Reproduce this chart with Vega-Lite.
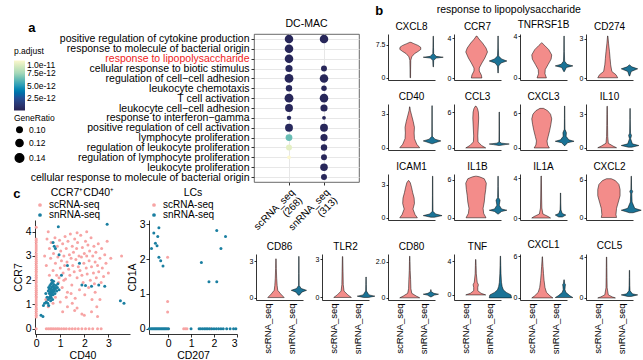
{
"$schema":"https://vega.github.io/schema/vega-lite/v6.json",
"padding":{"left":13,"top":4,"right":0,"bottom":0},
"columns":2,"bounds":"flush","spacing":{"column":218,"row":185},
"resolve":{"scale":{"color":"independent","size":"independent"}},
"config":{"font":"Liberation Sans","view":{"stroke":null},
"axis":{"domainColor":"#000","tickColor":"#000","labelColor":"#000","titleColor":"#000","grid":false,"titleFontWeight":"normal","domainWidth":0.8,"tickWidth":0.8,"labelFont":"Liberation Sans","titleFont":"Liberation Sans"},
"legend":{"labelFont":"Liberation Sans","titleFont":"Liberation Sans","titleFontWeight":"normal","labelColor":"#000","titleColor":"#000"},
"title":{"font":"Liberation Sans","fontWeight":"normal","color":"#000"}},
"datasets":{
"go":[
{"t":"positive regulation of cytokine production","m":"scRNA_seq|(268)","r":0.14,"p":3e-13},
{"t":"response to molecule of bacterial origin","m":"scRNA_seq|(268)","r":0.14,"p":3e-13},
{"t":"response to lipopolysaccharide","m":"scRNA_seq|(268)","r":0.14,"p":3e-13},
{"t":"cellular response to biotic stimulus","m":"scRNA_seq|(268)","r":0.12,"p":4e-13},
{"t":"regulation of cell−cell adhesion","m":"scRNA_seq|(268)","r":0.145,"p":3e-13},
{"t":"leukocyte chemotaxis","m":"scRNA_seq|(268)","r":0.11,"p":4e-13},
{"t":"T cell activation","m":"scRNA_seq|(268)","r":0.145,"p":3e-13},
{"t":"leukocyte cell−cell adhesion","m":"scRNA_seq|(268)","r":0.13,"p":3e-13},
{"t":"response to interferon−gamma","m":"scRNA_seq|(268)","r":0.09,"p":5e-13},
{"t":"positive regulation of cell activation","m":"scRNA_seq|(268)","r":0.13,"p":4e-13},
{"t":"lymphocyte proliferation","m":"scRNA_seq|(268)","r":0.115,"p":6.3e-12},
{"t":"regulation of leukocyte proliferation","m":"scRNA_seq|(268)","r":0.105,"p":9.3e-12},
{"t":"regulation of lymphocyte proliferation","m":"scRNA_seq|(268)","r":0.085,"p":1e-11},
{"t":"positive regulation of cytokine production","m":"snRNA_seq|(313)","r":0.14,"p":3e-13},
{"t":"cellular response to biotic stimulus","m":"snRNA_seq|(313)","r":0.105,"p":3e-13},
{"t":"regulation of cell−cell adhesion","m":"snRNA_seq|(313)","r":0.14,"p":3e-13},
{"t":"leukocyte chemotaxis","m":"snRNA_seq|(313)","r":0.1,"p":3e-13},
{"t":"T cell activation","m":"snRNA_seq|(313)","r":0.14,"p":3e-13},
{"t":"leukocyte cell−cell adhesion","m":"snRNA_seq|(313)","r":0.12,"p":3e-13},
{"t":"response to interferon−gamma","m":"snRNA_seq|(313)","r":0.085,"p":3e-13},
{"t":"positive regulation of cell activation","m":"snRNA_seq|(313)","r":0.13,"p":3e-13},
{"t":"lymphocyte proliferation","m":"snRNA_seq|(313)","r":0.12,"p":3e-13},
{"t":"regulation of leukocyte proliferation","m":"snRNA_seq|(313)","r":0.11,"p":3e-13},
{"t":"regulation of lymphocyte proliferation","m":"snRNA_seq|(313)","r":0.105,"p":3e-13},
{"t":"leukocyte proliferation","m":"snRNA_seq|(313)","r":0.125,"p":3e-13},
{"t":"cellular response to molecule of bacterial origin","m":"snRNA_seq|(313)","r":0.105,"p":3e-13}
],
"vio":[
{"g":"CXCL8","m":"sc","v":0,"w":0.04},{"g":"CXCL8","m":"sc","v":2,"w":0.05},{"g":"CXCL8","m":"sc","v":4,"w":0.08},{"g":"CXCL8","m":"sc","v":4.8,"w":0.25},{"g":"CXCL8","m":"sc","v":5.5,"w":0.7},{"g":"CXCL8","m":"sc","v":6,"w":1.3},{"g":"CXCL8","m":"sc","v":6.5,"w":1.8},{"g":"CXCL8","m":"sc","v":7,"w":1.75},{"g":"CXCL8","m":"sc","v":7.4,"w":1.3},{"g":"CXCL8","m":"sc","v":7.8,"w":0.6},{"g":"CXCL8","m":"sc","v":8.1,"w":0.1},
{"g":"CXCL8","m":"sn","v":2.5,"w":0.04},{"g":"CXCL8","m":"sn","v":4,"w":0.08},{"g":"CXCL8","m":"sn","v":4.5,"w":0.5},{"g":"CXCL8","m":"sn","v":4.7,"w":1.7},{"g":"CXCL8","m":"sn","v":4.9,"w":0.5},{"g":"CXCL8","m":"sn","v":5.5,"w":0.08},{"g":"CXCL8","m":"sn","v":7,"w":0.05},{"g":"CXCL8","m":"sn","v":9.5,"w":0.03},
{"g":"CCR7","m":"sc","v":0,"w":0.9},{"g":"CCR7","m":"sc","v":0.3,"w":0.8},{"g":"CCR7","m":"sc","v":0.7,"w":0.45},{"g":"CCR7","m":"sc","v":1,"w":0.45},{"g":"CCR7","m":"sc","v":1.5,"w":0.9},{"g":"CCR7","m":"sc","v":2,"w":1.4},{"g":"CCR7","m":"sc","v":2.6,"w":1.85},{"g":"CCR7","m":"sc","v":3,"w":1.6},{"g":"CCR7","m":"sc","v":3.5,"w":1},{"g":"CCR7","m":"sc","v":3.9,"w":0.4},{"g":"CCR7","m":"sc","v":4.2,"w":0.05},
{"g":"CCR7","m":"sn","v":0.5,"w":0.03},{"g":"CCR7","m":"sn","v":1.2,"w":0.1},{"g":"CCR7","m":"sn","v":1.5,"w":0.5},{"g":"CCR7","m":"sn","v":1.7,"w":1.5},{"g":"CCR7","m":"sn","v":1.9,"w":0.6},{"g":"CCR7","m":"sn","v":2.2,"w":0.1},{"g":"CCR7","m":"sn","v":3,"w":0.05},{"g":"CCR7","m":"sn","v":4.2,"w":0.03},
{"g":"TNFRSF1B","m":"sc","v":0,"w":0.8},{"g":"TNFRSF1B","m":"sc","v":0.4,"w":0.55},{"g":"TNFRSF1B","m":"sc","v":0.8,"w":0.6},{"g":"TNFRSF1B","m":"sc","v":1.3,"w":1.1},{"g":"TNFRSF1B","m":"sc","v":1.8,"w":1.6},{"g":"TNFRSF1B","m":"sc","v":2.2,"w":1.7},{"g":"TNFRSF1B","m":"sc","v":2.7,"w":1.2},{"g":"TNFRSF1B","m":"sc","v":3.1,"w":0.5},{"g":"TNFRSF1B","m":"sc","v":3.35,"w":0.05},
{"g":"TNFRSF1B","m":"sn","v":0.6,"w":0.04},{"g":"TNFRSF1B","m":"sn","v":1,"w":0.4},{"g":"TNFRSF1B","m":"sn","v":1.15,"w":1.5},{"g":"TNFRSF1B","m":"sn","v":1.3,"w":0.5},{"g":"TNFRSF1B","m":"sn","v":1.6,"w":0.1},{"g":"TNFRSF1B","m":"sn","v":2.5,"w":0.05},{"g":"TNFRSF1B","m":"sn","v":4,"w":0.03},
{"g":"CD274","m":"sc","v":0.02,"w":1.7},{"g":"CD274","m":"sc","v":0.25,"w":1.4},{"g":"CD274","m":"sc","v":0.5,"w":0.7},{"g":"CD274","m":"sc","v":1,"w":0.5},{"g":"CD274","m":"sc","v":1.5,"w":0.4},{"g":"CD274","m":"sc","v":2,"w":0.3},{"g":"CD274","m":"sc","v":2.6,"w":0.15},{"g":"CD274","m":"sc","v":3.2,"w":0.03},
{"g":"CD274","m":"sn","v":0.15,"w":0.04},{"g":"CD274","m":"sn","v":0.5,"w":0.3},{"g":"CD274","m":"sn","v":0.7,"w":1.4},{"g":"CD274","m":"sn","v":0.85,"w":0.4},{"g":"CD274","m":"sn","v":1,"w":0.04},
{"g":"CD40","m":"sc","v":0,"w":1.7},{"g":"CD40","m":"sc","v":0.3,"w":1.2},{"g":"CD40","m":"sc","v":0.8,"w":0.8},{"g":"CD40","m":"sc","v":1.3,"w":0.75},{"g":"CD40","m":"sc","v":1.8,"w":0.8},{"g":"CD40","m":"sc","v":2.3,"w":0.6},{"g":"CD40","m":"sc","v":2.8,"w":0.35},{"g":"CD40","m":"sc","v":3.3,"w":0.1},{"g":"CD40","m":"sc","v":3.6,"w":0.03},
{"g":"CD40","m":"sn","v":0.35,"w":0.04},{"g":"CD40","m":"sn","v":0.5,"w":0.9},{"g":"CD40","m":"sn","v":0.6,"w":1.5},{"g":"CD40","m":"sn","v":0.75,"w":0.5},{"g":"CD40","m":"sn","v":1,"w":0.05},{"g":"CD40","m":"sn","v":2,"w":0.04},{"g":"CD40","m":"sn","v":3.7,"w":0.03},
{"g":"CCL3","m":"sc","v":0,"w":1.7},{"g":"CCL3","m":"sc","v":0.4,"w":1},{"g":"CCL3","m":"sc","v":1,"w":0.4},{"g":"CCL3","m":"sc","v":2,"w":0.35},{"g":"CCL3","m":"sc","v":3,"w":0.4},{"g":"CCL3","m":"sc","v":4,"w":0.45},{"g":"CCL3","m":"sc","v":5,"w":0.5},{"g":"CCL3","m":"sc","v":6,"w":0.45},{"g":"CCL3","m":"sc","v":6.6,"w":0.3},{"g":"CCL3","m":"sc","v":7,"w":0.05},
{"g":"CCL3","m":"sn","v":0.4,"w":0.04},{"g":"CCL3","m":"sn","v":0.55,"w":1},{"g":"CCL3","m":"sn","v":0.65,"w":1.7},{"g":"CCL3","m":"sn","v":0.8,"w":0.4},{"g":"CCL3","m":"sn","v":1,"w":0.05},{"g":"CCL3","m":"sn","v":3,"w":0.04},{"g":"CCL3","m":"sn","v":6,"w":0.03},
{"g":"CXCL3","m":"sc","v":0,"w":1.3},{"g":"CXCL3","m":"sc","v":0.5,"w":1},{"g":"CXCL3","m":"sc","v":1.2,"w":0.9},{"g":"CXCL3","m":"sc","v":2,"w":1.1},{"g":"CXCL3","m":"sc","v":3,"w":1.35},{"g":"CXCL3","m":"sc","v":4,"w":1.55},{"g":"CXCL3","m":"sc","v":5,"w":1.7},{"g":"CXCL3","m":"sc","v":5.8,"w":1.5},{"g":"CXCL3","m":"sc","v":6.4,"w":1},{"g":"CXCL3","m":"sc","v":6.8,"w":0.3},
{"g":"CXCL3","m":"sn","v":0.4,"w":0.05},{"g":"CXCL3","m":"sn","v":0.9,"w":0.5},{"g":"CXCL3","m":"sn","v":1.15,"w":1.6},{"g":"CXCL3","m":"sn","v":1.4,"w":0.7},{"g":"CXCL3","m":"sn","v":2,"w":0.25},{"g":"CXCL3","m":"sn","v":2.6,"w":0.3},{"g":"CXCL3","m":"sn","v":3.2,"w":0.06},{"g":"CXCL3","m":"sn","v":5,"w":0.04},{"g":"CXCL3","m":"sn","v":7.2,"w":0.03},
{"g":"IL10","m":"sc","v":0,"w":1.6},{"g":"IL10","m":"sc","v":0.15,"w":1},{"g":"IL10","m":"sc","v":0.4,"w":0.2},{"g":"IL10","m":"sc","v":1,"w":0.1},{"g":"IL10","m":"sc","v":2,"w":0.07},{"g":"IL10","m":"sc","v":3,"w":0.05},{"g":"IL10","m":"sc","v":3.7,"w":0.03},
{"g":"IL10","m":"sn","v":0.05,"w":0.3},{"g":"IL10","m":"sn","v":0.2,"w":1.5},{"g":"IL10","m":"sn","v":0.35,"w":0.4},{"g":"IL10","m":"sn","v":0.8,"w":0.1},{"g":"IL10","m":"sn","v":1.1,"w":0.25},{"g":"IL10","m":"sn","v":1.3,"w":0.08},{"g":"IL10","m":"sn","v":2.5,"w":0.04},{"g":"IL10","m":"sn","v":3.5,"w":0.03},
{"g":"ICAM1","m":"sc","v":0,"w":1.5},{"g":"ICAM1","m":"sc","v":0.3,"w":1.1},{"g":"ICAM1","m":"sc","v":0.8,"w":0.75},{"g":"ICAM1","m":"sc","v":1.3,"w":1},{"g":"ICAM1","m":"sc","v":1.8,"w":0.95},{"g":"ICAM1","m":"sc","v":2.3,"w":0.7},{"g":"ICAM1","m":"sc","v":2.8,"w":0.5},{"g":"ICAM1","m":"sc","v":3.2,"w":0.3},{"g":"ICAM1","m":"sc","v":3.4,"w":0.04},
{"g":"ICAM1","m":"sn","v":0.05,"w":0.3},{"g":"ICAM1","m":"sn","v":0.2,"w":1.6},{"g":"ICAM1","m":"sn","v":0.35,"w":0.5},{"g":"ICAM1","m":"sn","v":0.6,"w":0.06},{"g":"ICAM1","m":"sn","v":2,"w":0.04},{"g":"ICAM1","m":"sn","v":3.8,"w":0.03},
{"g":"IL1B","m":"sc","v":0,"w":1.7},{"g":"IL1B","m":"sc","v":0.7,"w":1.3},{"g":"IL1B","m":"sc","v":1.5,"w":1.2},{"g":"IL1B","m":"sc","v":2.5,"w":1.4},{"g":"IL1B","m":"sc","v":3.5,"w":1.5},{"g":"IL1B","m":"sc","v":4.5,"w":1.65},{"g":"IL1B","m":"sc","v":5.5,"w":1.75},{"g":"IL1B","m":"sc","v":6.2,"w":1.4},{"g":"IL1B","m":"sc","v":6.5,"w":0.6},{"g":"IL1B","m":"sc","v":6.6,"w":0.1},
{"g":"IL1B","m":"sn","v":0.6,"w":0.05},{"g":"IL1B","m":"sn","v":1,"w":0.6},{"g":"IL1B","m":"sn","v":1.2,"w":1.5},{"g":"IL1B","m":"sn","v":1.4,"w":0.6},{"g":"IL1B","m":"sn","v":2,"w":0.2},{"g":"IL1B","m":"sn","v":2.8,"w":0.35},{"g":"IL1B","m":"sn","v":3.2,"w":0.08},{"g":"IL1B","m":"sn","v":5,"w":0.04},{"g":"IL1B","m":"sn","v":6.6,"w":0.03},
{"g":"IL1A","m":"sc","v":0,"w":1.6},{"g":"IL1A","m":"sc","v":0.15,"w":1.2},{"g":"IL1A","m":"sc","v":0.4,"w":0.3},{"g":"IL1A","m":"sc","v":1,"w":0.12},{"g":"IL1A","m":"sc","v":2,"w":0.08},{"g":"IL1A","m":"sc","v":3,"w":0.06},{"g":"IL1A","m":"sc","v":4.2,"w":0.03},
{"g":"IL1A","m":"sn","v":0.1,"w":0.3},{"g":"IL1A","m":"sn","v":0.3,"w":0.9},{"g":"IL1A","m":"sn","v":0.45,"w":0.3},{"g":"IL1A","m":"sn","v":0.8,"w":0.08},{"g":"IL1A","m":"sn","v":1.5,"w":0.04},{"g":"IL1A","m":"sn","v":2.5,"w":0.03},
{"g":"CXCL2","m":"sc","v":0.05,"w":1.3},{"g":"CXCL2","m":"sc","v":0.5,"w":1.2},{"g":"CXCL2","m":"sc","v":1.5,"w":1.3},{"g":"CXCL2","m":"sc","v":2.5,"w":1.6},{"g":"CXCL2","m":"sc","v":3.5,"w":1.9},{"g":"CXCL2","m":"sc","v":4.5,"w":1.9},{"g":"CXCL2","m":"sc","v":5.3,"w":1.7},{"g":"CXCL2","m":"sc","v":5.9,"w":1.1},{"g":"CXCL2","m":"sc","v":6.2,"w":0.4},
{"g":"CXCL2","m":"sn","v":0.8,"w":0.3},{"g":"CXCL2","m":"sn","v":1,"w":1},{"g":"CXCL2","m":"sn","v":1.2,"w":1.7},{"g":"CXCL2","m":"sn","v":1.5,"w":0.6},{"g":"CXCL2","m":"sn","v":2.5,"w":0.15},{"g":"CXCL2","m":"sn","v":3.8,"w":0.1},{"g":"CXCL2","m":"sn","v":4.2,"w":0.25},{"g":"CXCL2","m":"sn","v":4.5,"w":0.06},{"g":"CXCL2","m":"sn","v":6.6,"w":0.03},
{"g":"CD86","m":"sc","v":0,"w":1.4},{"g":"CD86","m":"sc","v":0.3,"w":0.8},{"g":"CD86","m":"sc","v":0.6,"w":0.3},{"g":"CD86","m":"sc","v":1,"w":0.2},{"g":"CD86","m":"sc","v":1.6,"w":0.12},{"g":"CD86","m":"sc","v":2.4,"w":0.06},{"g":"CD86","m":"sc","v":3.2,"w":0.03},
{"g":"CD86","m":"sn","v":0.2,"w":0.1},{"g":"CD86","m":"sn","v":0.45,"w":0.5},{"g":"CD86","m":"sn","v":0.6,"w":1.3},{"g":"CD86","m":"sn","v":0.75,"w":0.4},{"g":"CD86","m":"sn","v":1,"w":0.05},{"g":"CD86","m":"sn","v":2,"w":0.04},{"g":"CD86","m":"sn","v":3.4,"w":0.03},
{"g":"TLR2","m":"sc","v":0,"w":1.5},{"g":"TLR2","m":"sc","v":0.2,"w":0.9},{"g":"TLR2","m":"sc","v":0.5,"w":0.25},{"g":"TLR2","m":"sc","v":1,"w":0.12},{"g":"TLR2","m":"sc","v":2,"w":0.08},{"g":"TLR2","m":"sc","v":3.2,"w":0.03},
{"g":"TLR2","m":"sn","v":0,"w":0.4},{"g":"TLR2","m":"sn","v":0.1,"w":1.5},{"g":"TLR2","m":"sn","v":0.2,"w":0.5},{"g":"TLR2","m":"sn","v":0.5,"w":0.07},{"g":"TLR2","m":"sn","v":1,"w":0.05},{"g":"TLR2","m":"sn","v":1.6,"w":0.03},
{"g":"CD80","m":"sc","v":0,"w":1.7},{"g":"CD80","m":"sc","v":0.1,"w":1.1},{"g":"CD80","m":"sc","v":0.25,"w":0.35},{"g":"CD80","m":"sc","v":0.5,"w":0.2},{"g":"CD80","m":"sc","v":1,"w":0.15},{"g":"CD80","m":"sc","v":1.5,"w":0.08},{"g":"CD80","m":"sc","v":2,"w":0.05},{"g":"CD80","m":"sc","v":2.3,"w":0.02},
{"g":"CD80","m":"sn","v":0.05,"w":0.04},{"g":"CD80","m":"sn","v":0.15,"w":0.6},{"g":"CD80","m":"sn","v":0.2,"w":1.3},{"g":"CD80","m":"sn","v":0.25,"w":0.5},{"g":"CD80","m":"sn","v":0.35,"w":0.04},{"g":"CD80","m":"sn","v":0.45,"w":0.03},
{"g":"TNF","m":"sc","v":0,"w":1.7},{"g":"TNF","m":"sc","v":0.2,"w":0.9},{"g":"TNF","m":"sc","v":0.5,"w":0.35},{"g":"TNF","m":"sc","v":0.9,"w":0.35},{"g":"TNF","m":"sc","v":1.2,"w":0.45},{"g":"TNF","m":"sc","v":1.5,"w":0.25},{"g":"TNF","m":"sc","v":2.5,"w":0.1},{"g":"TNF","m":"sc","v":3.5,"w":0.06},{"g":"TNF","m":"sc","v":4.2,"w":0.03},
{"g":"TNF","m":"sn","v":-0.35,"w":1.9},{"g":"TNF","m":"sn","v":0,"w":1.8},{"g":"TNF","m":"sn","v":0.3,"w":1},{"g":"TNF","m":"sn","v":0.6,"w":0.5},{"g":"TNF","m":"sn","v":1,"w":0.3},{"g":"TNF","m":"sn","v":1.5,"w":0.18},{"g":"TNF","m":"sn","v":2.5,"w":0.1},{"g":"TNF","m":"sn","v":3.5,"w":0.06},{"g":"TNF","m":"sn","v":4.6,"w":0.03},
{"g":"CXCL1","m":"sc","v":0,"w":1.8},{"g":"CXCL1","m":"sc","v":0.3,"w":1.3},{"g":"CXCL1","m":"sc","v":0.8,"w":0.7},{"g":"CXCL1","m":"sc","v":1.5,"w":0.45},{"g":"CXCL1","m":"sc","v":2.5,"w":0.3},{"g":"CXCL1","m":"sc","v":3.5,"w":0.2},{"g":"CXCL1","m":"sc","v":4.5,"w":0.12},{"g":"CXCL1","m":"sc","v":5.3,"w":0.06},{"g":"CXCL1","m":"sc","v":5.9,"w":0.03},
{"g":"CXCL1","m":"sn","v":0.05,"w":1.5},{"g":"CXCL1","m":"sn","v":0.3,"w":1},{"g":"CXCL1","m":"sn","v":0.8,"w":0.3},{"g":"CXCL1","m":"sn","v":1.2,"w":0.15},{"g":"CXCL1","m":"sn","v":1.7,"w":0.2},{"g":"CXCL1","m":"sn","v":1.9,"w":0.25},{"g":"CXCL1","m":"sn","v":2.1,"w":0.1},{"g":"CXCL1","m":"sn","v":2.6,"w":0.03},
{"g":"CCL5","m":"sc","v":0,"w":1.5},{"g":"CCL5","m":"sc","v":0.1,"w":1},{"g":"CCL5","m":"sc","v":0.3,"w":0.3},{"g":"CCL5","m":"sc","v":1,"w":0.1},{"g":"CCL5","m":"sc","v":2,"w":0.07},{"g":"CCL5","m":"sc","v":3,"w":0.05},{"g":"CCL5","m":"sc","v":4,"w":0.03},
{"g":"CCL5","m":"sn","v":0.15,"w":0.3},{"g":"CCL5","m":"sn","v":0.3,"w":1.4},{"g":"CCL5","m":"sn","v":0.4,"w":0.5},{"g":"CCL5","m":"sn","v":0.7,"w":0.1},{"g":"CCL5","m":"sn","v":1.2,"w":0.06},{"g":"CCL5","m":"sn","v":2,"w":0.04},{"g":"CCL5","m":"sn","v":2.7,"w":0.03}
],
"c1":[
{"x":0,"y":0.48,"m":"sc"},{"x":0,"y":0.55,"m":"sc"},{"x":0,"y":0.63,"m":"sc"},{"x":0,"y":0.72,"m":"sc"},{"x":0,"y":0.8,"m":"sc"},{"x":0,"y":0.86,"m":"sc"},{"x":0,"y":0.95,"m":"sc"},{"x":0,"y":1.02,"m":"sc"},{"x":0,"y":1.1,"m":"sc"},{"x":0,"y":1.18,"m":"sc"},{"x":0,"y":1.27,"m":"sc"},{"x":0,"y":1.33,"m":"sc"},{"x":0,"y":1.42,"m":"sc"},{"x":0,"y":1.5,"m":"sc"},{"x":0,"y":1.58,"m":"sc"},{"x":0,"y":1.66,"m":"sc"},{"x":0,"y":1.74,"m":"sc"},{"x":0,"y":1.8,"m":"sc"},{"x":0,"y":1.9,"m":"sc"},{"x":0,"y":1.97,"m":"sc"},{"x":0,"y":2.05,"m":"sc"},{"x":0,"y":2.12,"m":"sc"},{"x":0,"y":2.2,"m":"sc"},{"x":0,"y":2.3,"m":"sc"},{"x":0,"y":2.37,"m":"sc"},{"x":0,"y":2.45,"m":"sc"},{"x":0,"y":2.53,"m":"sc"},{"x":0,"y":2.6,"m":"sc"},{"x":0,"y":2.7,"m":"sc"},{"x":0,"y":2.78,"m":"sc"},{"x":0,"y":2.85,"m":"sc"},{"x":0,"y":2.93,"m":"sc"},{"x":0,"y":3.02,"m":"sc"},{"x":0,"y":3.1,"m":"sc"},{"x":0,"y":3.2,"m":"sc"},{"x":0,"y":3.28,"m":"sc"},{"x":0,"y":3.37,"m":"sc"},{"x":0,"y":3.45,"m":"sc"},{"x":0,"y":3.55,"m":"sc"},{"x":0,"y":3.63,"m":"sc"},{"x":0,"y":3.7,"m":"sc"},{"x":0,"y":4.18,"m":"sc"},{"x":0,"y":0,"m":"sc"},
{"x":0.42,"y":0,"m":"sc"},{"x":0.5,"y":0,"m":"sc"},{"x":0.58,"y":0,"m":"sc"},{"x":0.65,"y":0,"m":"sc"},{"x":0.72,"y":0,"m":"sc"},{"x":0.8,"y":0,"m":"sc"},{"x":0.88,"y":0,"m":"sc"},{"x":0.95,"y":0,"m":"sc"},{"x":1.05,"y":0,"m":"sc"},{"x":1.15,"y":0,"m":"sc"},{"x":1.25,"y":0,"m":"sc"},{"x":1.38,"y":0,"m":"sc"},{"x":1.5,"y":0,"m":"sc"},{"x":1.62,"y":0,"m":"sc"},{"x":1.75,"y":0,"m":"sc"},{"x":1.9,"y":0,"m":"sc"},{"x":2.05,"y":0,"m":"sc"},{"x":2.2,"y":0,"m":"sc"},{"x":2.35,"y":0,"m":"sc"},{"x":2.55,"y":0,"m":"sc"},{"x":2.7,"y":0,"m":"sc"},
{"x":0.45,"y":3.7,"m":"sc"},{"x":0.55,"y":3.3,"m":"sc"},{"x":0.6,"y":2.9,"m":"sc"},{"x":0.62,"y":3.55,"m":"sc"},{"x":0.7,"y":2.4,"m":"sc"},{"x":0.72,"y":3.1,"m":"sc"},{"x":0.78,"y":3.75,"m":"sc"},{"x":0.8,"y":2.7,"m":"sc"},{"x":0.85,"y":2.2,"m":"sc"},{"x":0.88,"y":3.4,"m":"sc"},{"x":0.9,"y":2.95,"m":"sc"},{"x":0.93,"y":1.9,"m":"sc"},{"x":0.97,"y":3.65,"m":"sc"},{"x":1,"y":2.5,"m":"sc"},{"x":1.02,"y":3.2,"m":"sc"},{"x":1.05,"y":2.8,"m":"sc"},{"x":1.08,"y":1.7,"m":"sc"},{"x":1.1,"y":3.5,"m":"sc"},{"x":1.12,"y":2.3,"m":"sc"},{"x":1.15,"y":3,"m":"sc"},{"x":1.18,"y":2.6,"m":"sc"},{"x":1.2,"y":3.8,"m":"sc"},{"x":1.22,"y":2.05,"m":"sc"},{"x":1.25,"y":3.3,"m":"sc"},{"x":1.28,"y":2.75,"m":"sc"},{"x":1.3,"y":1.5,"m":"sc"},{"x":1.32,"y":3.6,"m":"sc"},{"x":1.35,"y":2.45,"m":"sc"},{"x":1.38,"y":3.05,"m":"sc"},{"x":1.4,"y":2.2,"m":"sc"},{"x":1.42,"y":3.9,"m":"sc"},{"x":1.45,"y":2.9,"m":"sc"},{"x":1.48,"y":1.8,"m":"sc"},{"x":1.5,"y":3.4,"m":"sc"},{"x":1.52,"y":2.6,"m":"sc"},{"x":1.55,"y":3.15,"m":"sc"},{"x":1.58,"y":2.35,"m":"sc"},{"x":1.6,"y":3.7,"m":"sc"},{"x":1.62,"y":1.25,"m":"sc"},{"x":1.65,"y":2.85,"m":"sc"},{"x":1.68,"y":3.3,"m":"sc"},{"x":1.7,"y":2.1,"m":"sc"},{"x":1.72,"y":3.55,"m":"sc"},{"x":1.75,"y":2.55,"m":"sc"},{"x":1.78,"y":3,"m":"sc"},{"x":1.8,"y":1.6,"m":"sc"},{"x":1.82,"y":2.4,"m":"sc"},{"x":1.85,"y":3.85,"m":"sc"},{"x":1.88,"y":2.95,"m":"sc"},{"x":1.9,"y":2.2,"m":"sc"},{"x":1.92,"y":3.35,"m":"sc"},{"x":1.95,"y":1.9,"m":"sc"},{"x":1.98,"y":2.7,"m":"sc"},{"x":2,"y":3.1,"m":"sc"},{"x":2.02,"y":1.4,"m":"sc"},{"x":2.05,"y":3.6,"m":"sc"},{"x":2.08,"y":2.5,"m":"sc"},{"x":2.1,"y":3,"m":"sc"},{"x":2.12,"y":2.25,"m":"sc"},{"x":2.15,"y":3.45,"m":"sc"},{"x":2.18,"y":1.7,"m":"sc"},{"x":2.2,"y":2.8,"m":"sc"},{"x":2.22,"y":3.2,"m":"sc"},{"x":2.25,"y":2,"m":"sc"},{"x":2.28,"y":3.75,"m":"sc"},{"x":2.3,"y":2.55,"m":"sc"},{"x":2.32,"y":1.2,"m":"sc"},{"x":2.35,"y":3,"m":"sc"},{"x":2.38,"y":2.3,"m":"sc"},{"x":2.4,"y":3.4,"m":"sc"},{"x":2.42,"y":1.85,"m":"sc"},{"x":2.45,"y":2.75,"m":"sc"},{"x":2.48,"y":3.15,"m":"sc"},{"x":2.5,"y":2.1,"m":"sc"},{"x":2.52,"y":0.9,"m":"sc"},{"x":2.55,"y":2.6,"m":"sc"},{"x":2.58,"y":3.5,"m":"sc"},{"x":2.6,"y":2.35,"m":"sc"},{"x":2.65,"y":2.9,"m":"sc"},{"x":2.7,"y":1.9,"m":"sc"},{"x":2.72,"y":3.3,"m":"sc"},{"x":2.75,"y":2.5,"m":"sc"},{"x":2.8,"y":2.15,"m":"sc"},{"x":2.85,"y":3.05,"m":"sc"},{"x":2.9,"y":2.7,"m":"sc"},{"x":2.95,"y":3.6,"m":"sc"},{"x":3,"y":2.3,"m":"sc"},{"x":3.1,"y":2.9,"m":"sc"},{"x":3.55,"y":3,"m":"sc"},{"x":0.4,"y":1.2,"m":"sc"},{"x":0.5,"y":0.9,"m":"sc"},{"x":0.35,"y":3,"m":"sc"},{"x":0.42,"y":2.6,"m":"sc"},{"x":1,"y":1.1,"m":"sc"},{"x":1.1,"y":0.7,"m":"sc"},{"x":1.3,"y":0.9,"m":"sc"},{"x":1.5,"y":1.05,"m":"sc"},{"x":1.7,"y":0.85,"m":"sc"},{"x":1.9,"y":0.6,"m":"sc"},{"x":2,"y":0.55,"m":"sc"},{"x":2.3,"y":0.7,"m":"sc"},{"x":2.55,"y":0.5,"m":"sc"},{"x":1.6,"y":0.75,"m":"sc"},{"x":1.25,"y":1.3,"m":"sc"},{"x":1.45,"y":1.45,"m":"sc"},{"x":0.8,"y":1.3,"m":"sc"},{"x":0.7,"y":1.05,"m":"sc"},{"x":0.65,"y":2,"m":"sc"},{"x":0.55,"y":2.2,"m":"sc"},{"x":2.45,"y":1.5,"m":"sc"},{"x":2.65,"y":1.2,"m":"sc"},{"x":1.15,"y":2,"m":"sc"},{"x":0.95,"y":2.1,"m":"sc"},{"x":1.7,"y":3.95,"m":"sc"},{"x":2.1,"y":4,"m":"sc"},{"x":0.5,"y":4,"m":"sc"},
{"x":0.5,"y":1.55,"m":"sn"},{"x":0.52,"y":1.7,"m":"sn"},{"x":0.55,"y":1.45,"m":"sn"},{"x":0.55,"y":1.62,"m":"sn"},{"x":0.57,"y":1.78,"m":"sn"},{"x":0.58,"y":1.5,"m":"sn"},{"x":0.6,"y":1.65,"m":"sn"},{"x":0.6,"y":1.38,"m":"sn"},{"x":0.62,"y":1.85,"m":"sn"},{"x":0.62,"y":1.55,"m":"sn"},{"x":0.64,"y":1.72,"m":"sn"},{"x":0.65,"y":1.45,"m":"sn"},{"x":0.66,"y":1.6,"m":"sn"},{"x":0.67,"y":1.9,"m":"sn"},{"x":0.68,"y":1.5,"m":"sn"},{"x":0.7,"y":1.75,"m":"sn"},{"x":0.7,"y":1.4,"m":"sn"},{"x":0.72,"y":1.62,"m":"sn"},{"x":0.73,"y":1.82,"m":"sn"},{"x":0.75,"y":1.55,"m":"sn"},{"x":0.76,"y":1.7,"m":"sn"},{"x":0.78,"y":1.45,"m":"sn"},{"x":0.8,"y":1.65,"m":"sn"},{"x":0.82,"y":1.78,"m":"sn"},{"x":0.85,"y":1.55,"m":"sn"},{"x":0.88,"y":1.7,"m":"sn"},{"x":0.58,"y":1.25,"m":"sn"},{"x":0.6,"y":1.15,"m":"sn"},{"x":0.55,"y":1.3,"m":"sn"},{"x":0.5,"y":1.2,"m":"sn"},{"x":0.48,"y":1.05,"m":"sn"},{"x":0.45,"y":1.3,"m":"sn"},{"x":0.42,"y":1.1,"m":"sn"},{"x":0.52,"y":0.95,"m":"sn"},{"x":0.4,"y":1.45,"m":"sn"},{"x":0.62,"y":1.3,"m":"sn"},{"x":0.68,"y":1.2,"m":"sn"},{"x":0.9,"y":1.85,"m":"sn"},{"x":0.95,"y":1.6,"m":"sn"},{"x":0.65,"y":2,"m":"sn"},{"x":0.72,"y":1.95,"m":"sn"},
{"x":0.2,"y":0.55,"m":"sn"},{"x":0.28,"y":0.5,"m":"sn"},{"x":0.3,"y":0.95,"m":"sn"},{"x":0.35,"y":1.05,"m":"sn"},{"x":0.92,"y":4.2,"m":"sn"},{"x":0.75,"y":3.4,"m":"sn"},{"x":0.8,"y":3.3,"m":"sn"},{"x":0.7,"y":3.55,"m":"sn"},{"x":0.95,"y":3.05,"m":"sn"},{"x":1.3,"y":2.6,"m":"sn"},{"x":1.8,"y":2.7,"m":"sn"},{"x":1.9,"y":1.8,"m":"sn"},{"x":2.05,"y":1.78,"m":"sn"},{"x":2.3,"y":1.75,"m":"sn"},{"x":2.6,"y":1.8,"m":"sn"},{"x":2.85,"y":1.75,"m":"sn"},{"x":2.95,"y":4.3,"m":"sn"},{"x":3.5,"y":1.15,"m":"sn"},{"x":3.65,"y":1.05,"m":"sn"},{"x":1.05,"y":2.2,"m":"sn"}
],
"c2":[
{"x":-0.02,"y":2.05,"m":"sc"},{"x":-0.02,"y":0.78,"m":"sc"},{"x":-0.02,"y":0.48,"m":"sc"},{"x":0,"y":0,"m":"sc"},{"x":0.68,"y":0,"m":"sc"},{"x":0.75,"y":0,"m":"sc"},{"x":0.82,"y":0,"m":"sc"},{"x":1.85,"y":0,"m":"sc"},
{"x":-0.72,"y":2.3,"m":"sn"},{"x":-0.62,"y":2.75,"m":"sn"},{"x":-0.55,"y":2.45,"m":"sn"},{"x":-0.48,"y":2.38,"m":"sn"},{"x":-0.45,"y":2.65,"m":"sn"},{"x":-0.4,"y":2.9,"m":"sn"},{"x":-0.4,"y":2.05,"m":"sn"},{"x":-0.32,"y":1.95,"m":"sn"},{"x":-0.22,"y":1.8,"m":"sn"},{"x":1.45,"y":1.9,"m":"sn"},{"x":1.78,"y":1.35,"m":"sn"},{"x":2.12,"y":1.35,"m":"sn"},{"x":2.12,"y":2.82,"m":"sn"},{"x":2.3,"y":2.3,"m":"sn"},{"x":2.5,"y":2.65,"m":"sn"},
{"x":-0.82,"y":0,"m":"sn"},{"x":-0.75,"y":0,"m":"sn"},{"x":-0.7,"y":0,"m":"sn"},{"x":-0.65,"y":0,"m":"sn"},{"x":-0.6,"y":0,"m":"sn"},{"x":-0.55,"y":0,"m":"sn"},{"x":-0.5,"y":0,"m":"sn"},{"x":-0.45,"y":0,"m":"sn"},{"x":-0.4,"y":0,"m":"sn"},{"x":-0.35,"y":0,"m":"sn"},{"x":-0.3,"y":0,"m":"sn"},{"x":-0.25,"y":0,"m":"sn"},{"x":-0.2,"y":0,"m":"sn"},{"x":-0.15,"y":0,"m":"sn"},{"x":-0.1,"y":0,"m":"sn"},{"x":-0.05,"y":0,"m":"sn"},{"x":0.02,"y":0,"m":"sn"},{"x":1,"y":0,"m":"sn"},{"x":1.35,"y":0,"m":"sn"},{"x":1.42,"y":0,"m":"sn"},{"x":1.5,"y":0,"m":"sn"},{"x":1.58,"y":0,"m":"sn"},{"x":1.65,"y":0,"m":"sn"},{"x":1.72,"y":0,"m":"sn"},{"x":1.8,"y":0,"m":"sn"},{"x":1.9,"y":0,"m":"sn"},{"x":2,"y":0,"m":"sn"},{"x":2.1,"y":0,"m":"sn"},{"x":2.2,"y":0,"m":"sn"},{"x":2.3,"y":0,"m":"sn"},{"x":2.4,"y":0,"m":"sn"},{"x":2.55,"y":0,"m":"sn"},{"x":2.7,"y":0,"m":"sn"},{"x":2.85,"y":0,"m":"sn"},{"x":2.95,"y":0,"m":"sn"}
]
},
"concat":[
{"width":1,"height":1,"data":{"values":[{"l":"a"}]},"mark":{"type":"text","fontSize":13,"fontWeight":"bold","align":"right","baseline":"bottom","font":"Liberation Sans","color":"#000"},"encoding":{"text":{"field":"l","type":"nominal"}}},
{"bounds":"flush","spacing":29,"resolve":{"scale":{"color":"independent","size":"independent"}},"hconcat":[
  {"width":105,"height":148,"data":{"name":"go"},
   "title":{"text":"DC-MAC","fontSize":10.5,"offset":4,"frame":"group","anchor":"middle"},
   "view":{"stroke":"#444","strokeWidth":0.8},
   "mark":{"type":"circle","opacity":1},
   "encoding":{
    "y":{"field":"t","type":"nominal","title":null,"sort":["positive regulation of cytokine production","response to molecule of bacterial origin","response to lipopolysaccharide","cellular response to biotic stimulus","regulation of cell−cell adhesion","leukocyte chemotaxis","T cell activation","leukocyte cell−cell adhesion","response to interferon−gamma","positive regulation of cell activation","lymphocyte proliferation","regulation of leukocyte proliferation","regulation of lymphocyte proliferation","leukocyte proliferation","cellular response to molecule of bacterial origin"],
     "axis":{"labelFontSize":10.5,"labelLimit":400,"grid":true,"gridColor":"#e4e4e4","gridWidth":0.9,"tickSize":3,"domain":false,"labelPadding":2,"labelColor":{"condition":{"test":"datum.value === 'response to lipopolysaccharide'","value":"#ee1c1c"},"value":"#000"}}},
    "x":{"field":"m","type":"nominal","title":null,"sort":["scRNA_seq|(268)","snRNA_seq|(313)"],"scale":{"type":"point","padding":1},
     "axis":{"labelAngle":-45,"labelExpr":"split(datum.label,'|')","labelFontSize":10,"labelLineHeight":11,"grid":true,"gridColor":"#e4e4e4","gridWidth":0.9,"tickSize":3,"domain":false,"labelPadding":2}},
    "size":{"field":"r","type":"quantitative","scale":{"domain":[0.08,0.145],"range":[9,78]},
     "legend":{"title":"GeneRatio","orient":"none","legendX":-240,"legendY":80,"values":[0.1,0.12,0.14],"format":".2f","symbolFillColor":"#000","symbolStrokeColor":"#000","symbolType":"circle","labelFontSize":8.5,"titleFontSize":8.5,"rowPadding":0,"titlePadding":3}},
    "color":{"field":"p","type":"quantitative","scale":{"domain":[0,2.5e-12,5e-12,7.5e-12,1e-11],"range":["#262252","#214f96","#2b9bb7","#a6d8b9","#fcf7cd"]},
     "legend":{"title":"p.adjust","orient":"none","legendX":-240,"legendY":13,"values":[2.5e-12,5e-12,7.5e-12,1e-11],"format":".1e","gradientLength":50,"gradientThickness":11,"labelFontSize":8.5,"titleFontSize":8.5}}
   }},
 {"title":{"text":"b","anchor":"start","frame":"bounds","fontSize":13,"fontWeight":"bold","offset":0,"dy":13},"vconcat":[
  {"title":{"text":"response to lipopolysaccharide","anchor":"middle","frame":"bounds","fontSize":10.5,"offset":5},"bounds":"flush","spacing":70,"vconcat":[
   {"bounds":"flush","spacing":19,"hconcat":[
    {"width":47,"height":46,"title":{"text":"CXCL8","fontSize":10,"offset":2},"data":{"name":"vio"},"transform":[{"filter":"datum.g==='CXCL8'"}],"layer":[
     {"transform":[{"filter":"datum.m==='sc'"}],"mark":{"type":"area","orient":"horizontal","fill":"#F38C8A","stroke":"#000","strokeWidth":0.5},"encoding":{"y":{"field":"v","type":"quantitative","scale":{"domain":[-0.5,10],"nice":false,"zero":false},"axis":{"values":[0,2.5,5,7.5],"title":null,"labelFontSize":7,"tickSize":2,"labelPadding":1,"labelExpr":"datum.value===0?'0':format(datum.value,'.1f')"}},"x":{"field":"w","type":"quantitative","stack":"center","scale":{"domain":[-1,3]},"axis":null}}},
     {"transform":[{"filter":"datum.m==='sn'"}],"mark":{"type":"area","orient":"horizontal","fill":"#1B7396","stroke":"#000","strokeWidth":0.5},"encoding":{"y":{"field":"v","type":"quantitative"},"x":{"field":"w","type":"quantitative","stack":"center","scale":{"domain":[-3,1]},"axis":null}}},
     {"mark":{"type":"rule","opacity":0},"encoding":{"x":{"field":"m","type":"nominal","sort":["sc","sn"],"scale":{"type":"point","padding":0.5},"axis":{"title":null,"labels":false,"ticks":false}}}}
    ],"resolve":{"scale":{"x":"independent"}}},
    {"width":47,"height":46,"title":{"text":"CCR7","fontSize":10,"offset":2},"data":{"name":"vio"},"transform":[{"filter":"datum.g==='CCR7'"}],"layer":[
     {"transform":[{"filter":"datum.m==='sc'"}],"mark":{"type":"area","orient":"horizontal","fill":"#F38C8A","stroke":"#000","strokeWidth":0.5},"encoding":{"y":{"field":"v","type":"quantitative","scale":{"domain":[-0.2,4.4],"nice":false,"zero":false},"axis":{"values":[0,1,2,3,4],"title":null,"labelFontSize":7,"tickSize":2,"labelPadding":1}},"x":{"field":"w","type":"quantitative","stack":"center","scale":{"domain":[-1,3]},"axis":null}}},
     {"transform":[{"filter":"datum.m==='sn'"}],"mark":{"type":"area","orient":"horizontal","fill":"#1B7396","stroke":"#000","strokeWidth":0.5},"encoding":{"y":{"field":"v","type":"quantitative"},"x":{"field":"w","type":"quantitative","stack":"center","scale":{"domain":[-3,1]},"axis":null}}},
     {"mark":{"type":"rule","opacity":0},"encoding":{"x":{"field":"m","type":"nominal","sort":["sc","sn"],"scale":{"type":"point","padding":0.5},"axis":{"title":null,"labels":false,"ticks":false}}}}
    ],"resolve":{"scale":{"x":"independent"}}},
    {"width":47,"height":46,"title":{"text":"TNFRSF1B","fontSize":10,"offset":2},"data":{"name":"vio"},"transform":[{"filter":"datum.g==='TNFRSF1B'"}],"layer":[
     {"transform":[{"filter":"datum.m==='sc'"}],"mark":{"type":"area","orient":"horizontal","fill":"#F38C8A","stroke":"#000","strokeWidth":0.5},"encoding":{"y":{"field":"v","type":"quantitative","scale":{"domain":[-0.2,4.2],"nice":false,"zero":false},"axis":{"values":[0,1,2,3,4],"title":null,"labelFontSize":7,"tickSize":2,"labelPadding":1}},"x":{"field":"w","type":"quantitative","stack":"center","scale":{"domain":[-1,3]},"axis":null}}},
     {"transform":[{"filter":"datum.m==='sn'"}],"mark":{"type":"area","orient":"horizontal","fill":"#1B7396","stroke":"#000","strokeWidth":0.5},"encoding":{"y":{"field":"v","type":"quantitative"},"x":{"field":"w","type":"quantitative","stack":"center","scale":{"domain":[-3,1]},"axis":null}}},
     {"mark":{"type":"rule","opacity":0},"encoding":{"x":{"field":"m","type":"nominal","sort":["sc","sn"],"scale":{"type":"point","padding":0.5},"axis":{"title":null,"labels":false,"ticks":false}}}}
    ],"resolve":{"scale":{"x":"independent"}}},
    {"width":47,"height":46,"title":{"text":"CD274","fontSize":10,"offset":2},"data":{"name":"vio"},"transform":[{"filter":"datum.g==='CD274'"}],"layer":[
     {"transform":[{"filter":"datum.m==='sc'"}],"mark":{"type":"area","orient":"horizontal","fill":"#F38C8A","stroke":"#000","strokeWidth":0.5},"encoding":{"y":{"field":"v","type":"quantitative","scale":{"domain":[-0.15,3.35],"nice":false,"zero":false},"axis":{"values":[0,1,2,3],"title":null,"labelFontSize":7,"tickSize":2,"labelPadding":1}},"x":{"field":"w","type":"quantitative","stack":"center","scale":{"domain":[-1,3]},"axis":null}}},
     {"transform":[{"filter":"datum.m==='sn'"}],"mark":{"type":"area","orient":"horizontal","fill":"#1B7396","stroke":"#000","strokeWidth":0.5},"encoding":{"y":{"field":"v","type":"quantitative"},"x":{"field":"w","type":"quantitative","stack":"center","scale":{"domain":[-3,1]},"axis":null}}},
     {"mark":{"type":"rule","opacity":0},"encoding":{"x":{"field":"m","type":"nominal","sort":["sc","sn"],"scale":{"type":"point","padding":0.5},"axis":{"title":null,"labels":false,"ticks":false}}}}
    ],"resolve":{"scale":{"x":"independent"}}}
   ]},
   {"bounds":"flush","spacing":19,"hconcat":[
    {"width":47,"height":46,"title":{"text":"CD40","fontSize":10,"offset":2},"data":{"name":"vio"},"transform":[{"filter":"datum.g==='CD40'"}],"layer":[
     {"transform":[{"filter":"datum.m==='sc'"}],"mark":{"type":"area","orient":"horizontal","fill":"#F38C8A","stroke":"#000","strokeWidth":0.5},"encoding":{"y":{"field":"v","type":"quantitative","scale":{"domain":[-0.2,3.85],"nice":false,"zero":false},"axis":{"values":[0,1,2,3],"title":null,"labelFontSize":7,"tickSize":2,"labelPadding":1}},"x":{"field":"w","type":"quantitative","stack":"center","scale":{"domain":[-1,3]},"axis":null}}},
     {"transform":[{"filter":"datum.m==='sn'"}],"mark":{"type":"area","orient":"horizontal","fill":"#1B7396","stroke":"#000","strokeWidth":0.5},"encoding":{"y":{"field":"v","type":"quantitative"},"x":{"field":"w","type":"quantitative","stack":"center","scale":{"domain":[-3,1]},"axis":null}}},
     {"mark":{"type":"rule","opacity":0},"encoding":{"x":{"field":"m","type":"nominal","sort":["sc","sn"],"scale":{"type":"point","padding":0.5},"axis":{"title":null,"labels":false,"ticks":false}}}}
    ],"resolve":{"scale":{"x":"independent"}}},
    {"width":47,"height":46,"title":{"text":"CCL3","fontSize":10,"offset":2},"data":{"name":"vio"},"transform":[{"filter":"datum.g==='CCL3'"}],"layer":[
     {"transform":[{"filter":"datum.m==='sc'"}],"mark":{"type":"area","orient":"horizontal","fill":"#F38C8A","stroke":"#000","strokeWidth":0.5},"encoding":{"y":{"field":"v","type":"quantitative","scale":{"domain":[-0.35,7.35],"nice":false,"zero":false},"axis":{"values":[0,2,4,6],"title":null,"labelFontSize":7,"tickSize":2,"labelPadding":1}},"x":{"field":"w","type":"quantitative","stack":"center","scale":{"domain":[-1,3]},"axis":null}}},
     {"transform":[{"filter":"datum.m==='sn'"}],"mark":{"type":"area","orient":"horizontal","fill":"#1B7396","stroke":"#000","strokeWidth":0.5},"encoding":{"y":{"field":"v","type":"quantitative"},"x":{"field":"w","type":"quantitative","stack":"center","scale":{"domain":[-3,1]},"axis":null}}},
     {"mark":{"type":"rule","opacity":0},"encoding":{"x":{"field":"m","type":"nominal","sort":["sc","sn"],"scale":{"type":"point","padding":0.5},"axis":{"title":null,"labels":false,"ticks":false}}}}
    ],"resolve":{"scale":{"x":"independent"}}},
    {"width":47,"height":46,"title":{"text":"CXCL3","fontSize":10,"offset":2},"data":{"name":"vio"},"transform":[{"filter":"datum.g==='CXCL3'"}],"layer":[
     {"transform":[{"filter":"datum.m==='sc'"}],"mark":{"type":"area","orient":"horizontal","fill":"#F38C8A","stroke":"#000","strokeWidth":0.5},"encoding":{"y":{"field":"v","type":"quantitative","scale":{"domain":[-0.35,7.55],"nice":false,"zero":false},"axis":{"values":[0,2,4,6],"title":null,"labelFontSize":7,"tickSize":2,"labelPadding":1}},"x":{"field":"w","type":"quantitative","stack":"center","scale":{"domain":[-1,3]},"axis":null}}},
     {"transform":[{"filter":"datum.m==='sn'"}],"mark":{"type":"area","orient":"horizontal","fill":"#1B7396","stroke":"#000","strokeWidth":0.5},"encoding":{"y":{"field":"v","type":"quantitative"},"x":{"field":"w","type":"quantitative","stack":"center","scale":{"domain":[-3,1]},"axis":null}}},
     {"mark":{"type":"rule","opacity":0},"encoding":{"x":{"field":"m","type":"nominal","sort":["sc","sn"],"scale":{"type":"point","padding":0.5},"axis":{"title":null,"labels":false,"ticks":false}}}}
    ],"resolve":{"scale":{"x":"independent"}}},
    {"width":47,"height":46,"title":{"text":"IL10","fontSize":10,"offset":2},"data":{"name":"vio"},"transform":[{"filter":"datum.g==='IL10'"}],"layer":[
     {"transform":[{"filter":"datum.m==='sc'"}],"mark":{"type":"area","orient":"horizontal","fill":"#F38C8A","stroke":"#000","strokeWidth":0.5},"encoding":{"y":{"field":"v","type":"quantitative","scale":{"domain":[-0.2,3.9],"nice":false,"zero":false},"axis":{"values":[0,1,2,3],"title":null,"labelFontSize":7,"tickSize":2,"labelPadding":1}},"x":{"field":"w","type":"quantitative","stack":"center","scale":{"domain":[-1,3]},"axis":null}}},
     {"transform":[{"filter":"datum.m==='sn'"}],"mark":{"type":"area","orient":"horizontal","fill":"#1B7396","stroke":"#000","strokeWidth":0.5},"encoding":{"y":{"field":"v","type":"quantitative"},"x":{"field":"w","type":"quantitative","stack":"center","scale":{"domain":[-3,1]},"axis":null}}},
     {"mark":{"type":"rule","opacity":0},"encoding":{"x":{"field":"m","type":"nominal","sort":["sc","sn"],"scale":{"type":"point","padding":0.5},"axis":{"title":null,"labels":false,"ticks":false}}}}
    ],"resolve":{"scale":{"x":"independent"}}}
   ]},
   {"bounds":"flush","spacing":19,"hconcat":[
    {"width":47,"height":46,"title":{"text":"ICAM1","fontSize":10,"offset":2},"data":{"name":"vio"},"transform":[{"filter":"datum.g==='ICAM1'"}],"layer":[
     {"transform":[{"filter":"datum.m==='sc'"}],"mark":{"type":"area","orient":"horizontal","fill":"#F38C8A","stroke":"#000","strokeWidth":0.5},"encoding":{"y":{"field":"v","type":"quantitative","scale":{"domain":[-0.2,4],"nice":false,"zero":false},"axis":{"values":[0,1,2,3],"title":null,"labelFontSize":7,"tickSize":2,"labelPadding":1}},"x":{"field":"w","type":"quantitative","stack":"center","scale":{"domain":[-1,3]},"axis":null}}},
     {"transform":[{"filter":"datum.m==='sn'"}],"mark":{"type":"area","orient":"horizontal","fill":"#1B7396","stroke":"#000","strokeWidth":0.5},"encoding":{"y":{"field":"v","type":"quantitative"},"x":{"field":"w","type":"quantitative","stack":"center","scale":{"domain":[-3,1]},"axis":null}}},
     {"mark":{"type":"rule","opacity":0},"encoding":{"x":{"field":"m","type":"nominal","sort":["sc","sn"],"scale":{"type":"point","padding":0.5},"axis":{"title":null,"labels":false,"ticks":false}}}}
    ],"resolve":{"scale":{"x":"independent"}}},
    {"width":47,"height":46,"title":{"text":"IL1B","fontSize":10,"offset":2},"data":{"name":"vio"},"transform":[{"filter":"datum.g==='IL1B'"}],"layer":[
     {"transform":[{"filter":"datum.m==='sc'"}],"mark":{"type":"area","orient":"horizontal","fill":"#F38C8A","stroke":"#000","strokeWidth":0.5},"encoding":{"y":{"field":"v","type":"quantitative","scale":{"domain":[-0.35,6.95],"nice":false,"zero":false},"axis":{"values":[0,2,4,6],"title":null,"labelFontSize":7,"tickSize":2,"labelPadding":1}},"x":{"field":"w","type":"quantitative","stack":"center","scale":{"domain":[-1,3]},"axis":null}}},
     {"transform":[{"filter":"datum.m==='sn'"}],"mark":{"type":"area","orient":"horizontal","fill":"#1B7396","stroke":"#000","strokeWidth":0.5},"encoding":{"y":{"field":"v","type":"quantitative"},"x":{"field":"w","type":"quantitative","stack":"center","scale":{"domain":[-3,1]},"axis":null}}},
     {"mark":{"type":"rule","opacity":0},"encoding":{"x":{"field":"m","type":"nominal","sort":["sc","sn"],"scale":{"type":"point","padding":0.5},"axis":{"title":null,"labels":false,"ticks":false}}}}
    ],"resolve":{"scale":{"x":"independent"}}},
    {"width":47,"height":46,"title":{"text":"IL1A","fontSize":10,"offset":2},"data":{"name":"vio"},"transform":[{"filter":"datum.g==='IL1A'"}],"layer":[
     {"transform":[{"filter":"datum.m==='sc'"}],"mark":{"type":"area","orient":"horizontal","fill":"#F38C8A","stroke":"#000","strokeWidth":0.5},"encoding":{"y":{"field":"v","type":"quantitative","scale":{"domain":[-0.2,4.4],"nice":false,"zero":false},"axis":{"values":[0,1,2,3,4],"title":null,"labelFontSize":7,"tickSize":2,"labelPadding":1}},"x":{"field":"w","type":"quantitative","stack":"center","scale":{"domain":[-1,3]},"axis":null}}},
     {"transform":[{"filter":"datum.m==='sn'"}],"mark":{"type":"area","orient":"horizontal","fill":"#1B7396","stroke":"#000","strokeWidth":0.5},"encoding":{"y":{"field":"v","type":"quantitative"},"x":{"field":"w","type":"quantitative","stack":"center","scale":{"domain":[-3,1]},"axis":null}}},
     {"mark":{"type":"rule","opacity":0},"encoding":{"x":{"field":"m","type":"nominal","sort":["sc","sn"],"scale":{"type":"point","padding":0.5},"axis":{"title":null,"labels":false,"ticks":false}}}}
    ],"resolve":{"scale":{"x":"independent"}}},
    {"width":47,"height":46,"title":{"text":"CXCL2","fontSize":10,"offset":2},"data":{"name":"vio"},"transform":[{"filter":"datum.g==='CXCL2'"}],"layer":[
     {"transform":[{"filter":"datum.m==='sc'"}],"mark":{"type":"area","orient":"horizontal","fill":"#F38C8A","stroke":"#000","strokeWidth":0.5},"encoding":{"y":{"field":"v","type":"quantitative","scale":{"domain":[-0.35,6.95],"nice":false,"zero":false},"axis":{"values":[0,2,4,6],"title":null,"labelFontSize":7,"tickSize":2,"labelPadding":1}},"x":{"field":"w","type":"quantitative","stack":"center","scale":{"domain":[-1,3]},"axis":null}}},
     {"transform":[{"filter":"datum.m==='sn'"}],"mark":{"type":"area","orient":"horizontal","fill":"#1B7396","stroke":"#000","strokeWidth":0.5},"encoding":{"y":{"field":"v","type":"quantitative"},"x":{"field":"w","type":"quantitative","stack":"center","scale":{"domain":[-3,1]},"axis":null}}},
     {"mark":{"type":"rule","opacity":0},"encoding":{"x":{"field":"m","type":"nominal","sort":["sc","sn"],"scale":{"type":"point","padding":0.5},"axis":{"title":null,"labels":false,"ticks":false}}}}
    ],"resolve":{"scale":{"x":"independent"}}}
   ]}
  ]}
 ]}
]},
{"title":{"text":"c","anchor":"start","frame":"bounds","fontSize":13,"fontWeight":"bold","offset":0,"dy":13},"resolve":{"scale":{"color":"independent","size":"independent"}},"vconcat":[
 {"bounds":"flush","spacing":19,"center":true,"resolve":{"scale":{"color":"independent","size":"independent"}},"hconcat":[
  {"width":95,"height":114,"data":{"name":"c1"},"title":{"text":"CCR7⁺CD40⁺","fontSize":10.5,"offset":2},
   "mark":{"type":"circle","size":9,"opacity":1},
   "encoding":{
    "x":{"field":"x","type":"quantitative","scale":{"domain":[-0.05,3.9],"nice":false,"zero":false},"axis":{"values":[0,1,2,3],"title":"CD40","labelFontSize":10.5,"titleFontSize":10.5,"tickSize":3,"labelPadding":1,"titlePadding":2}},
    "y":{"field":"y","type":"quantitative","scale":{"domain":[-0.22,4.48],"nice":false,"zero":false},"axis":{"values":[0,1,2,3,4],"title":"CCR7","labelFontSize":10.5,"titleFontSize":10.5,"tickSize":3,"labelPadding":1,"titlePadding":2}},
    "color":{"field":"m","type":"nominal","scale":{"domain":["sc","sn"],"range":["#F7A4A4","#1A7FA1"]},"legend":{"orient":"top","direction":"vertical","title":null,"labelFontSize":10,"symbolSize":14,"symbolType":"circle","offset":0,"rowPadding":0,"labelExpr":"datum.label==='sc'?'scRNA-seq':'snRNA-seq'"}}
   }},
  {"width":88,"height":114,"data":{"name":"c2"},"title":{"text":"LCs","fontSize":10.5,"offset":2},
   "mark":{"type":"circle","size":9,"opacity":1},
   "encoding":{
    "x":{"field":"x","type":"quantitative","scale":{"domain":[-0.83,3.0],"nice":false,"zero":false},"axis":{"values":[0,1,2,3],"title":"CD207","labelFontSize":10.5,"titleFontSize":10.5,"tickSize":3,"labelPadding":1,"titlePadding":2}},
    "y":{"field":"y","type":"quantitative","scale":{"domain":[-0.15,3.12],"nice":false,"zero":false},"axis":{"values":[0,1,2,3],"title":"CD1A","labelFontSize":10.5,"titleFontSize":10.5,"tickSize":3,"labelPadding":1,"titlePadding":2}},
    "color":{"field":"m","type":"nominal","scale":{"domain":["sc","sn"],"range":["#F7A4A4","#1A7FA1"]},"legend":{"orient":"top","direction":"vertical","title":null,"labelFontSize":10,"symbolSize":14,"symbolType":"circle","offset":0,"rowPadding":0,"labelExpr":"datum.label==='sc'?'scRNA-seq':'snRNA-seq'"}}
   }},
  {"width":47,"height":46,"title":{"text":"CD86","fontSize":10,"offset":2},"data":{"name":"vio"},"transform":[{"filter":"datum.g==='CD86'"}],"layer":[
   {"transform":[{"filter":"datum.m==='sc'"}],"mark":{"type":"area","orient":"horizontal","fill":"#F38C8A","stroke":"#000","strokeWidth":0.5},"encoding":{"y":{"field":"v","type":"quantitative","scale":{"domain":[-0.2,3.6],"nice":false,"zero":false},"axis":{"values":[0,1,2,3],"title":null,"labelFontSize":7,"tickSize":2,"labelPadding":1}},"x":{"field":"w","type":"quantitative","stack":"center","scale":{"domain":[-1,3]},"axis":null}}},
   {"transform":[{"filter":"datum.m==='sn'"}],"mark":{"type":"area","orient":"horizontal","fill":"#1B7396","stroke":"#000","strokeWidth":0.5},"encoding":{"y":{"field":"v","type":"quantitative"},"x":{"field":"w","type":"quantitative","stack":"center","scale":{"domain":[-3,1]},"axis":null}}},
   {"mark":{"type":"rule","opacity":0},"encoding":{"x":{"field":"m","type":"nominal","sort":["sc","sn"],"scale":{"type":"point","padding":0.5},"axis":{"title":null,"ticks":false,"labelAngle":-90,"labelFontSize":9.5,"labelPadding":3,"labelExpr":"datum.label==='sc'?'scRNA_seq':'snRNA_seq'"}}}}
  ],"resolve":{"scale":{"x":"independent"}}},
  {"width":47,"height":46,"title":{"text":"TLR2","fontSize":10,"offset":2},"data":{"name":"vio"},"transform":[{"filter":"datum.g==='TLR2'"}],"layer":[
   {"transform":[{"filter":"datum.m==='sc'"}],"mark":{"type":"area","orient":"horizontal","fill":"#F38C8A","stroke":"#000","strokeWidth":0.5},"encoding":{"y":{"field":"v","type":"quantitative","scale":{"domain":[-0.2,3.4],"nice":false,"zero":false},"axis":{"values":[0,1,2,3],"title":null,"labelFontSize":7,"tickSize":2,"labelPadding":1}},"x":{"field":"w","type":"quantitative","stack":"center","scale":{"domain":[-1,3]},"axis":null}}},
   {"transform":[{"filter":"datum.m==='sn'"}],"mark":{"type":"area","orient":"horizontal","fill":"#1B7396","stroke":"#000","strokeWidth":0.5},"encoding":{"y":{"field":"v","type":"quantitative"},"x":{"field":"w","type":"quantitative","stack":"center","scale":{"domain":[-3,1]},"axis":null}}},
   {"mark":{"type":"rule","opacity":0},"encoding":{"x":{"field":"m","type":"nominal","sort":["sc","sn"],"scale":{"type":"point","padding":0.5},"axis":{"title":null,"ticks":false,"labelAngle":-90,"labelFontSize":9.5,"labelPadding":3,"labelExpr":"datum.label==='sc'?'scRNA_seq':'snRNA_seq'"}}}}
  ],"resolve":{"scale":{"x":"independent"}}},
  {"width":47,"height":46,"title":{"text":"CD80","fontSize":10,"offset":2},"data":{"name":"vio"},"transform":[{"filter":"datum.g==='CD80'"}],"layer":[
   {"transform":[{"filter":"datum.m==='sc'"}],"mark":{"type":"area","orient":"horizontal","fill":"#F38C8A","stroke":"#000","strokeWidth":0.5},"encoding":{"y":{"field":"v","type":"quantitative","scale":{"domain":[-0.12,2.42],"nice":false,"zero":false},"axis":{"values":[0,0.5,1,1.5,2],"title":null,"labelFontSize":7,"tickSize":2,"labelPadding":1,"labelExpr":"datum.value===0?'0':format(datum.value,'.1f')"}},"x":{"field":"w","type":"quantitative","stack":"center","scale":{"domain":[-1,3]},"axis":null}}},
   {"transform":[{"filter":"datum.m==='sn'"}],"mark":{"type":"area","orient":"horizontal","fill":"#1B7396","stroke":"#000","strokeWidth":0.5},"encoding":{"y":{"field":"v","type":"quantitative"},"x":{"field":"w","type":"quantitative","stack":"center","scale":{"domain":[-3,1]},"axis":null}}},
   {"mark":{"type":"rule","opacity":0},"encoding":{"x":{"field":"m","type":"nominal","sort":["sc","sn"],"scale":{"type":"point","padding":0.5},"axis":{"title":null,"ticks":false,"labelAngle":-90,"labelFontSize":9.5,"labelPadding":3,"labelExpr":"datum.label==='sc'?'scRNA_seq':'snRNA_seq'"}}}}
  ],"resolve":{"scale":{"x":"independent"}}},
  {"width":47,"height":46,"title":{"text":"TNF","fontSize":10,"offset":2},"data":{"name":"vio"},"transform":[{"filter":"datum.g==='TNF'"}],"layer":[
   {"transform":[{"filter":"datum.m==='sc'"}],"mark":{"type":"area","orient":"horizontal","fill":"#F38C8A","stroke":"#000","strokeWidth":0.5},"encoding":{"y":{"field":"v","type":"quantitative","scale":{"domain":[-0.6,4.85],"nice":false,"zero":false},"axis":{"values":[0,1,2,3,4],"title":null,"labelFontSize":7,"tickSize":2,"labelPadding":1}},"x":{"field":"w","type":"quantitative","stack":"center","scale":{"domain":[-1,3]},"axis":null}}},
   {"transform":[{"filter":"datum.m==='sn'"}],"mark":{"type":"area","orient":"horizontal","fill":"#1B7396","stroke":"#000","strokeWidth":0.5},"encoding":{"y":{"field":"v","type":"quantitative"},"x":{"field":"w","type":"quantitative","stack":"center","scale":{"domain":[-3,1]},"axis":null}}},
   {"mark":{"type":"rule","opacity":0},"encoding":{"x":{"field":"m","type":"nominal","sort":["sc","sn"],"scale":{"type":"point","padding":0.5},"axis":{"title":null,"ticks":false,"labelAngle":-90,"labelFontSize":9.5,"labelPadding":3,"labelExpr":"datum.label==='sc'?'scRNA_seq':'snRNA_seq'"}}}}
  ],"resolve":{"scale":{"x":"independent"}}},
  {"width":47,"height":46,"title":{"text":"CXCL1","fontSize":10,"offset":2},"data":{"name":"vio"},"transform":[{"filter":"datum.g==='CXCL1'"}],"layer":[
   {"transform":[{"filter":"datum.m==='sc'"}],"mark":{"type":"area","orient":"horizontal","fill":"#F38C8A","stroke":"#000","strokeWidth":0.5},"encoding":{"y":{"field":"v","type":"quantitative","scale":{"domain":[-0.3,6.3],"nice":false,"zero":false},"axis":{"values":[0,2,4,6],"title":null,"labelFontSize":7,"tickSize":2,"labelPadding":1}},"x":{"field":"w","type":"quantitative","stack":"center","scale":{"domain":[-1,3]},"axis":null}}},
   {"transform":[{"filter":"datum.m==='sn'"}],"mark":{"type":"area","orient":"horizontal","fill":"#1B7396","stroke":"#000","strokeWidth":0.5},"encoding":{"y":{"field":"v","type":"quantitative"},"x":{"field":"w","type":"quantitative","stack":"center","scale":{"domain":[-3,1]},"axis":null}}},
   {"mark":{"type":"rule","opacity":0},"encoding":{"x":{"field":"m","type":"nominal","sort":["sc","sn"],"scale":{"type":"point","padding":0.5},"axis":{"title":null,"ticks":false,"labelAngle":-90,"labelFontSize":9.5,"labelPadding":3,"labelExpr":"datum.label==='sc'?'scRNA_seq':'snRNA_seq'"}}}}
  ],"resolve":{"scale":{"x":"independent"}}},
  {"width":47,"height":46,"title":{"text":"CCL5","fontSize":10,"offset":2},"data":{"name":"vio"},"transform":[{"filter":"datum.g==='CCL5'"}],"layer":[
   {"transform":[{"filter":"datum.m==='sc'"}],"mark":{"type":"area","orient":"horizontal","fill":"#F38C8A","stroke":"#000","strokeWidth":0.5},"encoding":{"y":{"field":"v","type":"quantitative","scale":{"domain":[-0.2,4.3],"nice":false,"zero":false},"axis":{"values":[0,1,2,3,4],"title":null,"labelFontSize":7,"tickSize":2,"labelPadding":1}},"x":{"field":"w","type":"quantitative","stack":"center","scale":{"domain":[-1,3]},"axis":null}}},
   {"transform":[{"filter":"datum.m==='sn'"}],"mark":{"type":"area","orient":"horizontal","fill":"#1B7396","stroke":"#000","strokeWidth":0.5},"encoding":{"y":{"field":"v","type":"quantitative"},"x":{"field":"w","type":"quantitative","stack":"center","scale":{"domain":[-3,1]},"axis":null}}},
   {"mark":{"type":"rule","opacity":0},"encoding":{"x":{"field":"m","type":"nominal","sort":["sc","sn"],"scale":{"type":"point","padding":0.5},"axis":{"title":null,"ticks":false,"labelAngle":-90,"labelFontSize":9.5,"labelPadding":3,"labelExpr":"datum.label==='sc'?'scRNA_seq':'snRNA_seq'"}}}}
  ],"resolve":{"scale":{"x":"independent"}}}
 ]}
]}
]
}
